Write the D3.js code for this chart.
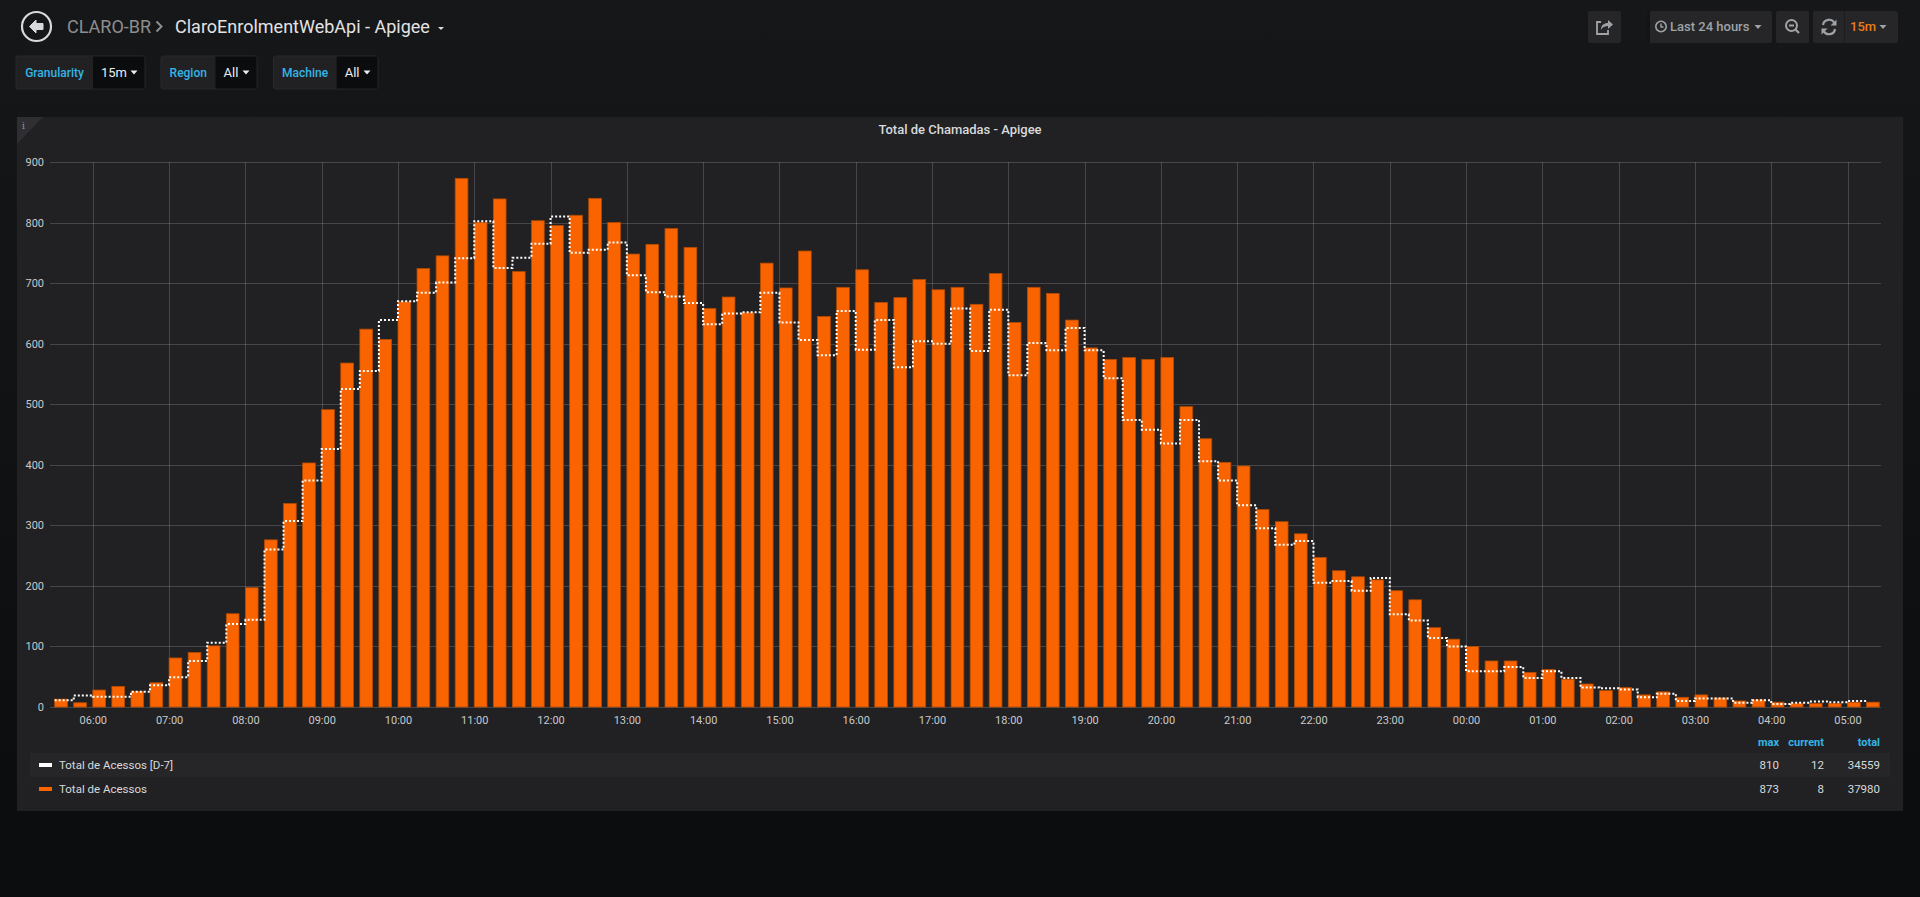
<!DOCTYPE html>
<html>
<head>
<meta charset="utf-8">
<script src="https://cdnjs.cloudflare.com/ajax/libs/d3/7.8.5/d3.min.js"></script>
<style>
html, body {
    margin: 0;
    padding: 0;
    width: 1920px;
    height: 897px;
    overflow: hidden;
    background: linear-gradient(#161719, #0b0c0e);
    font-family: Roboto, "Noto Sans", sans-serif;
}
</style>
</head>
<body>
<svg id="chart" width="1920" height="897"></svg>
<script>
// Data (15 minute buckets, last 24 hours)

const timeLabels = [
    "05:30","05:45","06:00","06:15","06:30","06:45","07:00","07:15",
    "07:30","07:45","08:00","08:15","08:30","08:45","09:00","09:15",
    "09:30","09:45","10:00","10:15","10:30","10:45","11:00","11:15",
    "11:30","11:45","12:00","12:15","12:30","12:45","13:00","13:15",
    "13:30","13:45","14:00","14:15","14:30","14:45","15:00","15:15",
    "15:30","15:45","16:00","16:15","16:30","16:45","17:00","17:15",
    "17:30","17:45","18:00","18:15","18:30","18:45","19:00","19:15",
    "19:30","19:45","20:00","20:15","20:30","20:45","21:00","21:15",
    "21:30","21:45","22:00","22:15","22:30","22:45","23:00","23:15",
    "23:30","23:45","00:00","00:15","00:30","00:45","01:00","01:15",
    "01:30","01:45","02:00","02:15","02:30","02:45","03:00","03:15",
    "03:30","03:45","04:00","04:15","04:30","04:45","05:00","05:15"
];

const acessos = [
    13, 7, 28, 34, 26, 40, 81, 90,
    101, 154, 197, 276, 336, 403, 491, 568,
    624, 607, 669, 724, 745, 873, 800, 839,
    719, 803, 795, 812, 840, 800, 748, 764,
    790, 759, 658, 677, 651, 733, 692, 753,
    645, 693, 722, 668, 676, 706, 689, 693,
    665, 716, 635, 693, 683, 639, 593, 574,
    577, 574, 577, 496, 443, 404, 398, 326,
    306, 286, 247, 225, 215, 210, 192, 177,
    131, 112, 100, 76, 76, 57, 62, 46,
    38, 27, 32, 20, 25, 16, 20, 15,
    10, 12, 8, 6, 6, 6, 8, 8
];

const acessosD7 = [
    11, 19, 17, 17, 25, 36, 49, 76,
    106, 137, 144, 260, 307, 374, 426, 525,
    555, 639, 670, 684, 701, 741, 802, 725,
    742, 765, 810, 750, 755, 767, 713, 685,
    678, 667, 632, 650, 652, 684, 635, 606,
    581, 654, 590, 639, 561, 604, 600, 658,
    588, 656, 548, 601, 589, 626, 589, 543,
    474, 458, 435, 474, 406, 374, 333, 295,
    268, 274, 205, 208, 192, 213, 153, 143,
    114, 100, 59, 59, 66, 48, 59, 48,
    32, 31, 29, 16, 22, 10, 14, 14,
    7, 11, 5, 7, 9, 8, 10, 12
];

const yTicks = [0, 100, 200, 300, 400, 500, 600, 700, 800, 900];
const seriesNames = ["Total de Acessos [D-7]", "Total de Acessos"];
const statNames = ["max", "current", "total"];
const variables = [
    { label: "Granularity", value: "15m" },
    { label: "Region", value: "All" },
    { label: "Machine", value: "All" }
];

// Time window shown (last 24 hours)
const windowStart = new Date(2018, 5, 4, 5, 26, 20);
const windowEnd = new Date(2018, 5, 5, 5, 26, 20);

// Turn "HH:MM" into a date, times before 05:30 belong to the next day
function toDate(label) {
    const [h, m] = label.split(":").map(Number);
    const nextDay = h * 60 + m < 330 ? 1 : 0;
    return new Date(2018, 5, 4 + nextDay, h, m);
}

const data = timeLabels.map((t, i) => ({
    time: toDate(t),
    value: acessos[i],
    d7: acessosD7[i]
}));

const orange = "#fa6400";
const cyan = "#33b5e5";
const textColor = "#d8d9da";

const svg = d3.select("#chart");

// ---------- Top navigation ----------

const nav = svg.append("g");

// back button
nav.append("circle")
    .attr("cx", 36.5).attr("cy", 26.5).attr("r", 14.5)
    .attr("fill", "none").attr("stroke", textColor).attr("stroke-width", 2.2);
nav.append("path")
    .attr("transform", "translate(36.5,26.5)")
    .attr("d", "M-7,0 L-0.5,-6.5 L-0.5,-3 L6.5,-3 L6.5,3 L-0.5,3 L-0.5,6.5 Z")
    .attr("fill", textColor)
    .attr("stroke", textColor).attr("stroke-width", 1).attr("stroke-linejoin", "round");

nav.append("text")
    .attr("x", 67).attr("y", 33)
    .style("font-size", "18px").style("fill", "#8e8e8e")
    .text("CLARO-BR");
nav.append("path")
    .attr("d", "M156.5,21.5 L161.5,26.5 L156.5,31.5")
    .attr("fill", "none").attr("stroke", "#8e8e8e").attr("stroke-width", 2);
nav.append("text")
    .attr("x", 175).attr("y", 33)
    .style("font-size", "18px").style("fill", "#e3e3e3")
    .text("ClaroEnrolmentWebApi - Apigee");
nav.append("path")
    .attr("d", "M438,27 L444,27 L441,30 Z")
    .attr("fill", textColor);

// variable selectors
const varBoxes = [
    { x: 16, split: 93, end: 145 },
    { x: 161, split: 215.5, end: 257 },
    { x: 273.5, split: 336.7, end: 378 }
];

variables.forEach((v, i) => {
    const b = varBoxes[i];
    const g = svg.append("g");
    g.append("rect")
        .attr("x", b.x).attr("y", 56).attr("width", b.end - b.x).attr("height", 33)
        .attr("rx", 2).attr("fill", "#212124").attr("stroke", "#29292c");
    g.append("rect")
        .attr("x", b.split).attr("y", 56.5).attr("width", b.end - b.split - 0.5).attr("height", 32)
        .attr("fill", "#0b0c0e");
    g.append("text")
        .attr("x", (b.x + b.split) / 2).attr("y", 77)
        .attr("text-anchor", "middle")
        .style("font-size", "12px").style("font-weight", "500").style("fill", cyan)
        .text(v.label);
    g.append("text")
        .attr("x", b.split + 8).attr("y", 77)
        .style("font-size", "13px").style("fill", "#e9edf2")
        .text(v.value);
    const cx = b.end - 11;
    g.append("path")
        .attr("d", `M${cx - 3.5},70.5 L${cx + 3.5},70.5 L${cx},74.5 Z`)
        .attr("fill", "#e9edf2");
});

// right hand buttons
const btnFill = "#262628";
const iconColor = "#9fa3a7";

function button(x, w) {
    return svg.append("rect")
        .attr("x", x).attr("y", 11).attr("width", w).attr("height", 32)
        .attr("rx", 2).attr("fill", btnFill);
}

button(1588, 33);
// share icon
svg.append("path")
    .attr("d", "M1608,30 L1608,34 L1597,34 L1597,22 L1601,22")
    .attr("fill", "none").attr("stroke", iconColor).attr("stroke-width", 1.8);
svg.append("path")
    .attr("d", "M1601,30 C1601,25 1604,23 1608,23 L1608,20 L1613,24.5 L1608,29 L1608,26 C1605,26 1602.5,27 1601,30 Z")
    .attr("fill", iconColor);

button(1647, 125);
svg.append("rect")
    .attr("x", 1647).attr("y", 11).attr("width", 3).attr("height", 32)
    .attr("fill", "#141416");
svg.append("circle")
    .attr("cx", 1661).attr("cy", 26.5).attr("r", 5.2)
    .attr("fill", "none").attr("stroke", iconColor).attr("stroke-width", 1.6);
svg.append("path")
    .attr("d", "M1661,23.5 L1661,27 L1663.5,27")
    .attr("fill", "none").attr("stroke", iconColor).attr("stroke-width", 1.4);
svg.append("text")
    .attr("x", 1670).attr("y", 31)
    .style("font-size", "13px").style("font-weight", "500").style("fill", iconColor)
    .text("Last 24 hours");
svg.append("path")
    .attr("d", "M1754.5,25 L1761.5,25 L1758,29 Z")
    .attr("fill", iconColor);

button(1776, 33);
svg.append("circle")
    .attr("cx", 1791.5).attr("cy", 25.5).attr("r", 5.5)
    .attr("fill", "none").attr("stroke", iconColor).attr("stroke-width", 2);
svg.append("path")
    .attr("d", "M1789,25.5 L1794,25.5 M1795.5,29.5 L1799,33")
    .attr("fill", "none").attr("stroke", iconColor).attr("stroke-width", 2.2);

button(1813, 85);
svg.append("rect")
    .attr("x", 1844).attr("y", 11).attr("width", 1).attr("height", 32)
    .attr("fill", "#1c1c1e");
svg.append("path")
    .attr("d", "M1823,25 A6,6 0 0 1 1834.5,23.5 M1835,29 A6,6 0 0 1 1823.5,30.5")
    .attr("fill", "none").attr("stroke", iconColor).attr("stroke-width", 2.2);
svg.append("path")
    .attr("d", "M1836.5,19.5 L1836.5,25.5 L1830.5,25.5 Z M1821.5,34.5 L1821.5,28.5 L1827.5,28.5 Z")
    .attr("fill", iconColor);
svg.append("text")
    .attr("x", 1850).attr("y", 31)
    .style("font-size", "13px").style("font-weight", "500").style("fill", "#eb7b18")
    .text("15m");
svg.append("path")
    .attr("d", "M1879.5,25 L1886.5,25 L1883,29 Z")
    .attr("fill", iconColor);

// ---------- Panel ----------

const panel = { x: 17, y: 117, w: 1886, h: 694 };

svg.append("rect")
    .attr("x", panel.x).attr("y", panel.y).attr("width", panel.w).attr("height", panel.h)
    .attr("fill", "#212124");

// info corner
svg.append("path")
    .attr("d", `M${panel.x},${panel.y} L${panel.x + 26},${panel.y} L${panel.x},${panel.y + 27} Z`)
    .attr("fill", "#2f2f33");
svg.append("text")
    .attr("x", 22).attr("y", 129)
    .style("font-size", "9px").style("font-family", "'DejaVu Serif', serif").style("fill", "#9a9a9a")
    .text("i");

svg.append("text")
    .attr("x", (panel.x + panel.x + panel.w) / 2).attr("y", 134)
    .attr("text-anchor", "middle")
    .style("font-size", "13px").style("font-weight", "500").style("fill", textColor)
    .text("Total de Chamadas - Apigee");

// ---------- Plot ----------

const plot = { left: 50, right: 1881, top: 162, bottom: 707 };

const x = d3.scaleTime()
    .domain([windowStart, windowEnd])
    .range([plot.left, plot.right]);

const y = d3.scaleLinear()
    .domain([0, 900])
    .range([plot.bottom, plot.top]);

const gridColor = "rgba(255,255,255,0.17)";
const hourTicks = x.ticks(d3.timeHour.every(1));

// grid
svg.append("g")
    .selectAll("line")
    .data(yTicks)
    .join("line")
    .attr("x1", plot.left).attr("x2", plot.right)
    .attr("y1", d => Math.round(y(d)) + 0.5).attr("y2", d => Math.round(y(d)) + 0.5)
    .attr("stroke", gridColor).attr("stroke-width", 1);

svg.append("g")
    .selectAll("line")
    .data(hourTicks)
    .join("line")
    .attr("x1", d => Math.round(x(d)) + 0.5).attr("x2", d => Math.round(x(d)) + 0.5)
    .attr("y1", plot.top).attr("y2", plot.bottom)
    .attr("stroke", gridColor).attr("stroke-width", 1);

// y-axis labels
const yAxis = svg.append("g")
    .attr("transform", `translate(${plot.left - 6},0)`)
    .call(d3.axisLeft(y).tickValues(yTicks).tickSize(0).tickPadding(0));
yAxis.select(".domain").remove();
yAxis.selectAll("text")
    .style("font-size", "11px").style("font-family", "Roboto, sans-serif")
    .style("fill", "#c8c9ca");

// x-axis labels
const xAxis = svg.append("g")
    .attr("transform", `translate(0,${plot.bottom})`)
    .call(d3.axisBottom(x)
        .ticks(d3.timeHour.every(1))
        .tickFormat(d3.timeFormat("%H:%M"))
        .tickSize(0)
        .tickPadding(9));
xAxis.select(".domain").remove();
xAxis.selectAll("text")
    .style("font-size", "11px").style("font-family", "Roboto, sans-serif")
    .style("fill", "#c8c9ca");

// bars: Grafana draws them at the bucket start, 2/3 of the interval wide
svg.append("g")
    .selectAll("rect")
    .data(data)
    .join("rect")
    .attr("x", d => x(d.time))
    .attr("width", d => x(d3.timeMinute.offset(d.time, 10)) - x(d.time))
    .attr("y", d => y(d.value))
    .attr("height", d => y(0) - y(d.value))
    .attr("fill", orange)
    .attr("stroke", "#b34a00")
    .attr("stroke-width", 0.8);

// D-7 stepped dotted line
const stepLine = d3.line()
    .x(d => x(d.time))
    .y(d => y(d.d7))
    .curve(d3.curveStepAfter);

svg.append("path")
    .datum(data)
    .attr("fill", "none")
    .attr("stroke", "#ffffff")
    .attr("stroke-width", 2)
    .attr("stroke-dasharray", "2,2")
    .attr("d", stepLine);

// ---------- Legend table ----------

const series = [
    { name: seriesNames[0], color: "#ffffff", values: acessosD7 },
    { name: seriesNames[1], color: orange, values: acessos }
];
series.forEach(s => {
    s.stats = [d3.max(s.values), s.values[s.values.length - 1], d3.sum(s.values)];
});

const statRight = [1779, 1824, 1880];

svg.append("g")
    .selectAll("text")
    .data(statNames)
    .join("text")
    .attr("x", (d, i) => statRight[i]).attr("y", 746)
    .attr("text-anchor", "end")
    .style("font-size", "11px").style("font-weight", "bold").style("fill", cyan)
    .text(d => d);

const rows = svg.append("g")
    .selectAll("g")
    .data(series)
    .join("g")
    .attr("transform", (d, i) => `translate(0,${753 + i * 24})`);

rows.filter((d, i) => i === 0)
    .append("rect")
    .attr("x", 30).attr("y", 0).attr("width", 1860).attr("height", 24)
    .attr("fill", "#262629");

rows.append("rect")
    .attr("x", 39).attr("y", 10).attr("width", 13).attr("height", 4)
    .attr("fill", d => d.color);

rows.append("text")
    .attr("x", 59).attr("y", 16)
    .style("font-size", "11.5px").style("fill", textColor)
    .text(d => d.name);

rows.selectAll(".stat")
    .data(d => d.stats)
    .join("text")
    .attr("class", "stat")
    .attr("x", (d, i) => statRight[i]).attr("y", 16)
    .attr("text-anchor", "end")
    .style("font-size", "11.5px").style("fill", textColor)
    .text(d => d);
</script>
</body>
</html>
